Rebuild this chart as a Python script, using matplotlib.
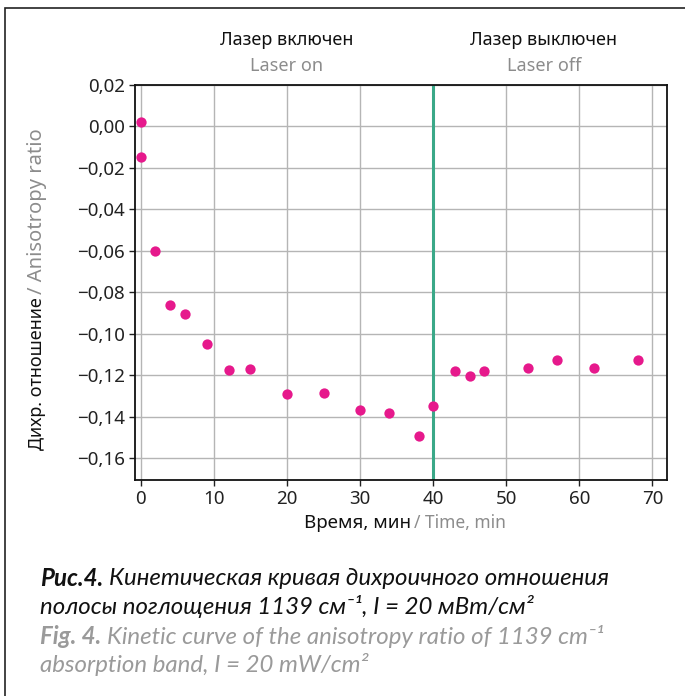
import numpy as np
import matplotlib as mpl
mpl.use('Agg')
import matplotlib.pyplot as plt
from matplotlib.patches import Rectangle
from matplotlib.ticker import FuncFormatter

plt.rcParams['font.family'] = ['Noto Sans', 'DejaVu Sans']

# data
time_min = [0, 0, 2, 4, 6, 9, 12, 15, 20, 25, 30, 34, 38, 40,
            43, 45, 47, 53, 57, 62, 68]
ratio = [0.0023, -0.0146, -0.0600, -0.0861, -0.0907, -0.1050, -0.1177, -0.1170,
         -0.1290, -0.1284, -0.1367, -0.1385, -0.1494, -0.1348,
         -0.1182, -0.1206, -0.1182, -0.1166, -0.1129, -0.1166, -0.1129]
laser_off_at = 40
x_ticks = [0, 10, 20, 30, 40, 50, 60, 70]
y_ticks = [0.02, 0.00, -0.02, -0.04, -0.06, -0.08, -0.10, -0.12, -0.14, -0.16]

W, H = 685, 696
fig = plt.figure(figsize=(W / 100, H / 100), dpi=100)
ax = fig.add_axes([135 / W, 1 - 480 / H, (667 - 135) / W, (480 - 85) / H])

ax.scatter(time_min, ratio, s=55, c='#e6198c', marker='o', linewidths=0, zorder=3)
ax.axvline(laser_off_at, color='#3aa888', lw=2.2, zorder=2)

ax.set_xlim(-0.8, 72)
ax.set_ylim(-0.1706, 0.02)
ax.set_xticks(x_ticks)
ax.set_yticks(y_ticks)
ax.yaxis.set_major_formatter(FuncFormatter(lambda v, p: ('%.2f' % v).replace('.', ',').replace('-', '\u2212')))
ax.tick_params(labelsize=13.5, length=4, width=1, colors='#222222', pad=3)
ax.grid(True, color='#b5b5b5', lw=1, zorder=0)
ax.set_axisbelow(True)
for s in ax.spines.values():
    s.set_linewidth(1.3)
    s.set_color('#111111')

# axis labels, two colours each
fig.text(411 / W, 1 - 523 / H, 'Время, мин', fontsize=13.5, ha='right', va='center', color='#111111')
fig.text(414 / W, 1 - 523 / H, '/ Time, min', fontsize=12.5, ha='left', va='center', color='#8c8c8c')
fig.text(37 / W, 1 - 297 / H, 'Дихр. отношение', fontsize=13, rotation=90,
         ha='center', va='top', color='#111111')
fig.text(37 / W, 1 - 294 / H, '/ Anisotropy ratio', fontsize=14.5, rotation=90,
         ha='center', va='bottom', color='#8c8c8c')

# laser annotations
fig.text(287 / W, 1 - 40 / H, 'Лазер включен', fontsize=13, ha='center', va='center', color='#111111')
fig.text(287 / W, 1 - 66 / H, 'Laser on', fontsize=13, ha='center', va='center', color='#8c8c8c')
fig.text(544 / W, 1 - 40 / H, 'Лазер выключен', fontsize=13, ha='center', va='center', color='#111111')
fig.text(544 / W, 1 - 66 / H, 'Laser off', fontsize=13, ha='center', va='center', color='#8c8c8c')

# caption
r = fig.canvas.get_renderer()
cap_font = ['Lato', 'DejaVu Sans']
cap_size = 17.3
x0 = 40 / W
t = fig.text(x0, 1 - 578 / H, 'Рис.4.', fontsize=cap_size, fontweight='bold', style='italic',
             family=cap_font, ha='left', va='center', color='#111111')
bb = t.get_window_extent(renderer=r)
fig.text(bb.x1 / W + 6 / W, 1 - 578 / H, 'Кинетическая кривая дихроичного отношения',
         fontsize=cap_size, style='italic', family=cap_font, ha='left', va='center', color='#111111')
fig.text(x0, 1 - 607 / H, 'полосы поглощения 1139 см\u207b\u00b9, I = 20 мВт/см\u00b2',
         fontsize=cap_size, style='italic', family=cap_font, ha='left', va='center', color='#111111')
t = fig.text(x0, 1 - 636 / H, 'Fig. 4.', fontsize=cap_size, fontweight='bold', style='italic',
             family=cap_font, ha='left', va='center', color='#9a9a9a')
bb = t.get_window_extent(renderer=r)
fig.text(bb.x1 / W + 6 / W, 1 - 636 / H, 'Kinetic curve of the anisotropy ratio of 1139 cm\u207b\u00b9',
         fontsize=cap_size, style='italic', family=cap_font, ha='left', va='center', color='#9a9a9a')
fig.text(x0, 1 - 664 / H, 'absorption band, I = 20 mW/cm\u00b2',
         fontsize=cap_size, style='italic', family=cap_font, ha='left', va='center', color='#9a9a9a')

# frame round the figure
fig.patches.append(Rectangle((5 / W, -0.05), 1.0, 1 - 8 / H + 0.05, transform=fig.transFigure,
                             fill=False, edgecolor='#222222', lw=1.2))

fig.savefig('out.png', dpi=100)
plt.close()
